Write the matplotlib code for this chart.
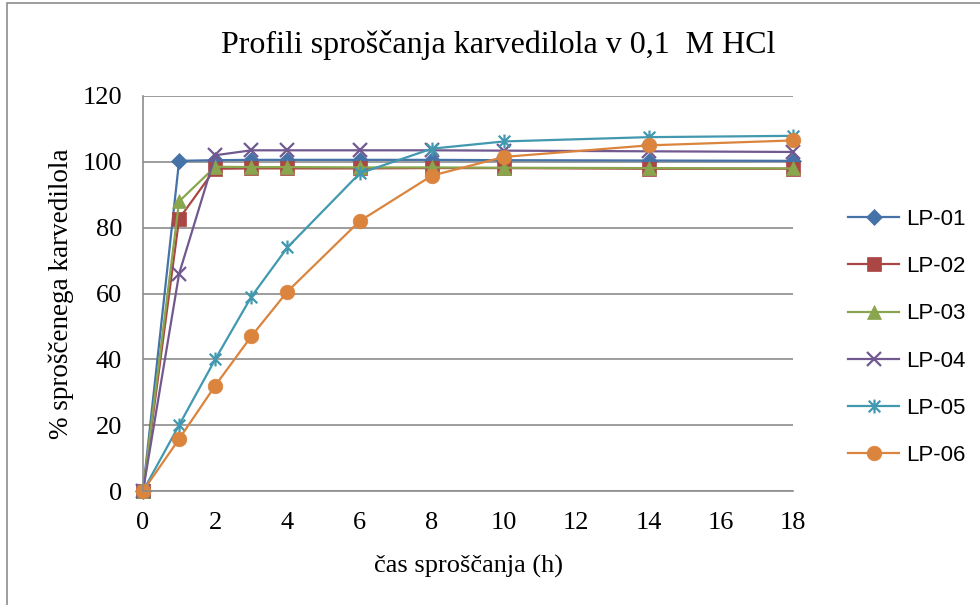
import matplotlib
matplotlib.use("Agg")
import matplotlib.pyplot as plt
from matplotlib.path import Path
from matplotlib.patches import Rectangle

hours = [0, 1, 2, 3, 4, 6, 8, 10, 14, 18]
lp01 = [0, 100.3, 100.5, 100.6, 100.6, 100.6, 100.6, 100.5, 100.4, 100.3]
lp02 = [0, 82.7, 97.9, 98.0, 98.0, 98.0, 98.1, 98.1, 97.9, 97.9]
lp03 = [0, 88.0, 98.5, 98.4, 98.4, 98.3, 98.3, 98.2, 98.1, 98.0]
lp04 = [0, 66.0, 102.0, 103.5, 103.5, 103.5, 103.5, 103.4, 103.2, 103.0]
lp05 = [0, 20.0, 40.0, 59.0, 74.0, 96.5, 104.0, 106.2, 107.5, 107.9]
lp06 = [0, 15.8, 32.0, 47.0, 60.6, 82.0, 95.8, 101.5, 105.0, 106.5]
series_names = ["LP-01", "LP-02", "LP-03", "LP-04", "LP-05", "LP-06"]
series_values = [lp01, lp02, lp03, lp04, lp05, lp06]
title = "Profili sproščanja karvedilola v 0,1  M HCl"
xlabel = "čas sproščanja (h)"
ylabel = "% sproščenega karvedilola"

colors = ["#4572A7", "#AA4643", "#89A54E", "#71588F", "#4198AF", "#DB843D"]

# asterisk marker: X plus vertical line
star_path = Path(
    [(-1, -1), (1, 1), (-1, 1), (1, -1), (0, -1.2), (0, 1.2)],
    [Path.MOVETO, Path.LINETO, Path.MOVETO, Path.LINETO, Path.MOVETO, Path.LINETO],
)
markers = ["D", "s", "^", "x", star_path, "o"]
msizes = [8.5, 9.5, 10, 10, 10, 10.5]

fig = plt.figure(figsize=(9.8, 6.05), dpi=100)
fig.patch.set_facecolor("white")
fig.patches.append(Rectangle((7 / 980, -0.1), 1.2, 1 - 3 / 605 + 0.1,
                             transform=fig.transFigure, fill=False,
                             edgecolor="#8c8c8c", linewidth=1.2))

ax = fig.add_axes([143 / 980, 1 - 491 / 605, 650 / 980, 395 / 605])

for name, vals, c, m, ms in zip(series_names, series_values, colors, markers, msizes):
    filled = m not in ("x",) and not isinstance(m, Path)
    ax.plot(hours, vals, color=c, linewidth=1.6, marker=m, markersize=ms,
            markeredgewidth=1.6 if not filled else 0.5,
            markerfacecolor=c, markeredgecolor=c, label=name, clip_on=False)

ax.set_xlim(0, 18)
ax.set_ylim(0, 120)
ax.set_xticks(range(0, 19, 2))
ax.set_yticks(range(0, 121, 20))
ax.grid(axis="y", color="#8c8c8c", linewidth=1.2)
ax.set_axisbelow(True)
for s in ("top", "right"):
    ax.spines[s].set_visible(False)
for s in ("left", "bottom"):
    ax.spines[s].set_color("#8c8c8c")
    ax.spines[s].set_linewidth(1.2)

serif = "Liberation Serif"
ax.tick_params(axis="x", length=0, pad=15, labelsize=19)
ax.tick_params(axis="y", length=0, pad=15, labelsize=19)
for lab in ax.get_xticklabels() + ax.get_yticklabels():
    lab.set_fontfamily(serif)

ax.set_xlabel(xlabel, fontfamily=serif, fontsize=19, labelpad=15)
ax.set_ylabel(ylabel, fontfamily=serif, fontsize=19.5, labelpad=6)
fig.text(498 / 980, 1 - 45 / 605, title, ha="center", va="center",
         fontfamily=serif, fontsize=23)

leg = ax.legend(loc="upper left", bbox_to_anchor=(848 / 980, 1 - 209 / 605),
                bbox_transform=fig.transFigure, frameon=False,
                prop={"family": "Liberation Sans", "size": 16},
                handlelength=2.3, labelspacing=1.18, handletextpad=0.32,
                borderaxespad=0, borderpad=0)

fig.savefig("out.png", dpi=100, facecolor="white")
